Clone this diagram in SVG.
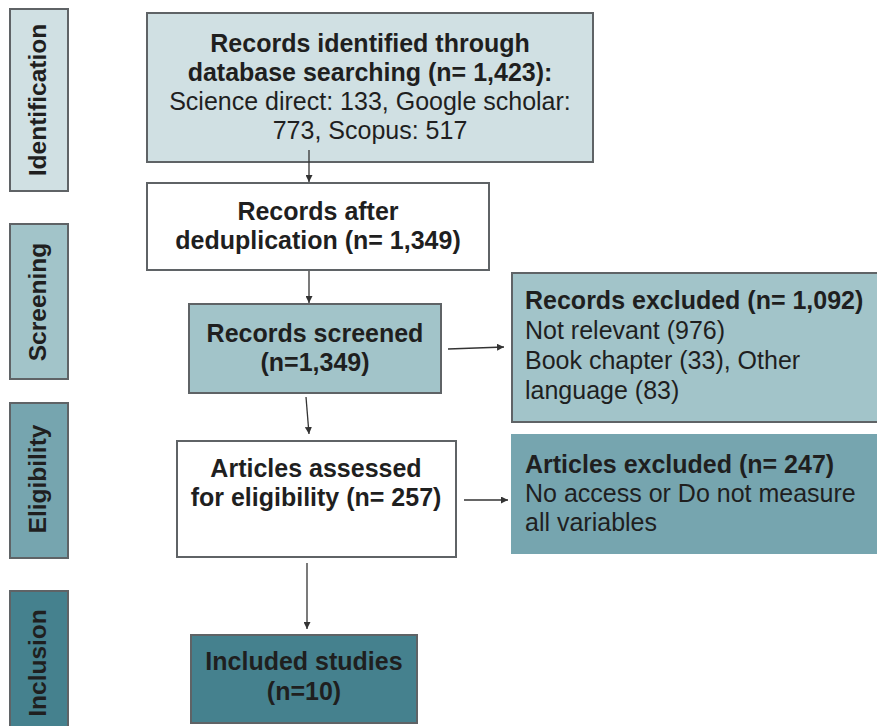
<svg xmlns="http://www.w3.org/2000/svg" width="877" height="726" viewBox="0 0 877 726">
<defs>
<style>
.b{stroke:#5f6366;stroke-width:2}
text{font-family:"Liberation Sans",Arial,sans-serif;font-size:25px;fill:#1f1f1f}
.bd{font-weight:bold}
.c{text-anchor:middle}
.lbl{font-weight:bold;text-anchor:middle;font-size:24.5px}
.cn{stroke:#333;stroke-width:1.3;fill:none}
</style>
<marker id="ah" viewBox="0 0 10 10" refX="10" refY="5" markerWidth="7" markerHeight="7" markerUnits="userSpaceOnUse" orient="auto">
<path d="M0,0 L10,5 L0,10 z" fill="#333"/>
</marker>
</defs>
<rect width="877" height="726" fill="#fff"/>

<g id="stage-identification">
<rect class="b" x="10" y="9" width="58" height="182" fill="#d0e0e3"/>
<text class="lbl" transform="translate(46,100) rotate(-90)">Identification</text>
</g>
<g id="stage-screening">
<rect class="b" x="10" y="224" width="58" height="155" fill="#a2c4c9"/>
<text class="lbl" transform="translate(46,302) rotate(-90)">Screening</text>
</g>
<g id="stage-eligibility">
<rect class="b" x="10" y="403" width="58" height="155" fill="#76a5af"/>
<text class="lbl" transform="translate(46,479) rotate(-90)">Eligibility</text>
</g>
<g id="stage-inclusion">
<rect class="b" x="10" y="591" width="58" height="140" fill="#45818e"/>
<text class="lbl" transform="translate(46,663) rotate(-90)">Inclusion</text>
</g>

<g id="identified">
<rect class="b" x="147" y="13" width="446" height="149" fill="#d0e0e3"/>
<text class="c bd" x="370" y="52">Records identified through</text>
<text class="c bd" x="370" y="81">database searching (n= 1,423):</text>
<text class="c" x="370" y="110">Science direct: 133, Google scholar:</text>
<text class="c" x="370" y="139">773, Scopus: 517</text>
</g>

<g id="deduplicated">
<rect class="b" x="147" y="183" width="342" height="87" fill="#fff"/>
<text class="c bd" x="318" y="220">Records after</text>
<text class="c bd" x="318" y="249">deduplication (n= 1,349)</text>
</g>

<g id="screened">
<rect class="b" x="189" y="304" width="252" height="89" fill="#a2c4c9"/>
<text class="c bd" x="315" y="342">Records screened</text>
<text class="c bd" x="315" y="371">(n=1,349)</text>
</g>

<g id="records-excluded">
<rect class="b" x="512" y="273" width="370" height="149" fill="#a2c4c9"/>
<text class="bd" x="525" y="309">Records excluded (n= 1,092)</text>
<text x="525" y="339">Not relevant (976)</text>
<text x="525" y="369">Book chapter (33), Other</text>
<text x="525" y="399">language (83)</text>
</g>

<g id="assessed">
<rect class="b" x="177" y="441" width="279" height="116" fill="#fff"/>
<text class="c bd" x="316" y="477">Articles assessed</text>
<text class="c bd" x="316" y="506">for eligibility (n= 257)</text>
</g>

<g id="articles-excluded">
<rect x="511" y="434" width="370" height="120" fill="#76a5af"/>
<text class="bd" x="525" y="473">Articles excluded (n= 247)</text>
<text x="525" y="502">No access or Do not measure</text>
<text x="525" y="531">all variables</text>
</g>

<g id="included">
<rect class="b" x="191" y="635" width="226" height="88" fill="#45818e"/>
<text class="c bd" x="304" y="670">Included studies</text>
<text class="c bd" x="304" y="700">(n=10)</text>
</g>

<g id="connectors">
<line class="cn" x1="309" y1="150" x2="309" y2="182" marker-end="url(#ah)"/>
<line class="cn" x1="309" y1="271" x2="309" y2="303" marker-end="url(#ah)"/>
<line class="cn" x1="448" y1="349" x2="504" y2="347" marker-end="url(#ah)"/>
<line class="cn" x1="306" y1="397" x2="309" y2="434" marker-end="url(#ah)"/>
<line class="cn" x1="464" y1="500" x2="508" y2="500" marker-end="url(#ah)"/>
<line class="cn" x1="307" y1="563" x2="307" y2="629" marker-end="url(#ah)"/>
</g>
</svg>
